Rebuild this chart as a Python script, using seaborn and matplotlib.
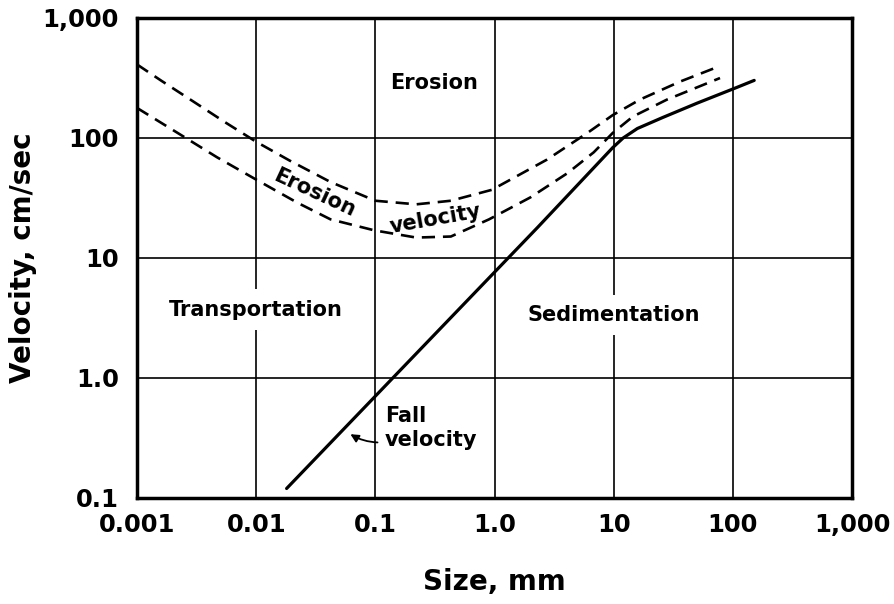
import numpy as np
import pandas as pd
import seaborn as sns
import matplotlib
matplotlib.use('Agg')
import matplotlib.pyplot as plt

# values (size in mm, velocity in cm/sec)
upper_size = [0.001, 0.0016, 0.003, 0.0055, 0.01, 0.019, 0.042, 0.1, 0.22,
              0.43, 0.95, 2.75, 6.0, 9.8, 16.6, 36, 78]
upper_vel = [410, 300, 200, 135, 93, 65, 43, 30, 28, 30, 37, 66, 110, 155, 209, 295, 398]

lower_size = [0.001, 0.0023, 0.0047, 0.01, 0.022, 0.042, 0.098, 0.22, 0.43,
              0.9, 2.0, 4.1, 6.8, 9.8, 14.5, 28, 78]
lower_vel = [178, 107, 69, 45, 29, 21, 17, 14.8, 15.1, 21, 32, 51, 76, 110, 151, 209, 316]

fall_size = [0.018, 0.14, 2.3, 9.8, 12, 15.8, 25.7, 50, 107, 151]
fall_vel = [0.12, 1.0, 18, 83, 100, 120, 148, 195, 263, 302]

x_ticks = [0.001, 0.01, 0.1, 1, 10, 100, 1000]
x_labels = ['0.001', '0.01', '0.1', '1.0', '10', '100', '1,000']
y_ticks = [0.1, 1, 10, 100, 1000]
y_labels = ['0.1', '1.0', '10', '100', '1,000']

sns.set_theme(style='white')
plt.rcParams['font.family'] = ['DejaVu Sans']
plt.rcParams['text.color'] = 'black'
plt.rcParams['axes.labelcolor'] = 'black'

fig = plt.figure(figsize=(8.95, 6.04), dpi=100)
ax = fig.add_axes([0.1531, 0.1755, 0.7989, 0.7947])

dash = (0, (5, 3))
sns.lineplot(x=upper_size, y=upper_vel, ax=ax, sort=False, estimator=None,
             color='black', lw=1.9, linestyle=dash)
sns.lineplot(x=lower_size, y=lower_vel, ax=ax, sort=False, estimator=None,
             color='black', lw=1.9, linestyle=dash)
sns.lineplot(x=fall_size, y=fall_vel, ax=ax, sort=False, estimator=None,
             color='black', lw=2.3)

ax.set_xscale('log')
ax.set_yscale('log')
ax.set_xlim(0.001, 1000)
ax.set_ylim(0.1, 1000)
ax.set_xticks(x_ticks)
ax.set_xticklabels(x_labels)
ax.set_yticks(y_ticks)
ax.set_yticklabels(y_labels)
ax.minorticks_off()
ax.tick_params(axis='both', length=0, labelsize=17.5, colors='black')
ax.tick_params(axis='x', pad=11)
ax.tick_params(axis='y', pad=13)
for lab in ax.get_xticklabels() + ax.get_yticklabels():
    lab.set_fontweight('bold')
ax.grid(True, which='major', color='black', lw=1.2)
ax.set_axisbelow(True)
for sp in ax.spines.values():
    sp.set_color('black')
    sp.set_linewidth(2.5)

ax.set_xlabel('Size, mm', fontsize=20, fontweight='bold', labelpad=22)
ax.set_ylabel('Velocity, cm/sec', fontsize=20, fontweight='bold', labelpad=4)

# region labels
txt = dict(fontsize=15, fontweight='bold', ha='center', va='center', color='black')
ax.text(0.31, 290, 'Erosion', **txt)
box = dict(boxstyle='square,pad=0.5', fc='white', ec='none')
ax.text(0.01, 3.7, 'Transportation', bbox=box, **txt)
ax.text(10, 3.35, 'Sedimentation', bbox=box, **txt)
ax.text(0.031, 35, 'Erosion', rotation=-25, rotation_mode='anchor', **txt)
ax.text(0.32, 21, 'velocity', rotation=10, rotation_mode='anchor', **txt)

ax.text(0.12, 0.38, 'Fall\nvelocity', fontsize=15, fontweight='bold',
        ha='left', va='center', linespacing=1.25, color='black')
ax.annotate('', xy=(0.059, 0.35), xytext=(0.11, 0.29),
            arrowprops=dict(arrowstyle='-|>', color='black', lw=1.3,
                            mutation_scale=12,
                            connectionstyle='arc3,rad=-0.15'))

fig.savefig('out.png', dpi=100)
